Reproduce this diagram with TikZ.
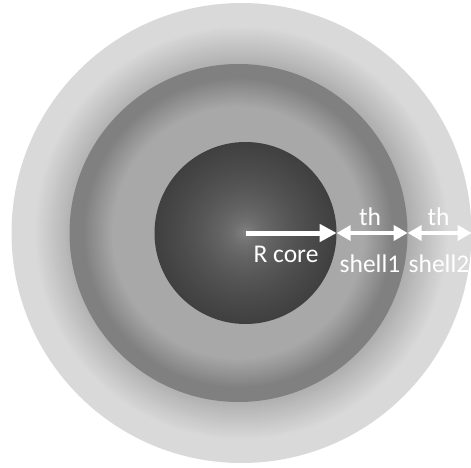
\documentclass[tikz,border=0pt]{standalone}
\usepackage{fontspec}
\setsansfont{Carlito}
\usetikzlibrary{arrows.meta}

\begin{document}
\begin{tikzpicture}[
  x=1pt, y=-1pt,
  ball/.style={circle, draw=none, inner sep=0pt},
  lbl/.style={text=white, anchor=base, font=\sffamily\fontsize{25.5}{30}\selectfont},
  rarrow/.style={white, line width=5pt, -{Triangle[length=17pt, width=17pt]}},
  tharrow/.style={white, line width=3.5pt, {Triangle[length=14pt, width=15pt]}-{Triangle[length=14pt, width=15pt]}}
]
  \useasboundingbox (0,0) rectangle (471,468);

  %--- Spheres ---
  \node[ball, minimum size=460pt] (outer) at (241.5,233) {};
  \node[ball, minimum size=338pt] (mid) at (238.5,233) {};
  \node[ball, minimum size=182pt] (core) at (245.5,233) {};

  % outer shell: light rim, darker inside
  \foreach \r in {230,229,...,160} {
    \pgfmathsetmacro\c{\r>207 ? 15 : 15+16*(207-\r)/38}
    \fill[black!\c] (outer.center) circle[radius=\r pt];
  }
  % inner shell: dark rim, lighter inside
  \foreach \r in {169,168,...,120} {
    \pgfmathsetmacro\c{\r>156 ? 50 : (\r<126 ? 34 : 34+16*(\r-126)/30)}
    \fill[black!\c] (mid.center) circle[radius=\r pt];
  }
  % core: dark rim, light centre
  \foreach \r in {91,90,...,1} {
    \pgfmathsetmacro\c{45+30*sqrt(\r/91)}
    \fill[black!\c] (core.center) circle[radius=\r pt];
  }

  %--- Arrows ---
  \draw[rarrow] (core.center) -- (core.east);
  \draw[tharrow] (core.east) -- (mid.east);
  \draw[tharrow] (mid.east) -- (outer.east);

  %--- Labels ---
  \node[lbl] (lcore) at (286,262) {R core};
  \node[lbl] (lth1) at (370,225) {th};
  \node[lbl] (lsh1) at (370,272) {shell1};
  \node[lbl] (lth2) at (438.5,225) {th};
  \node[lbl] (lsh2) at (439,272) {shell2};
\end{tikzpicture}
\end{document}
